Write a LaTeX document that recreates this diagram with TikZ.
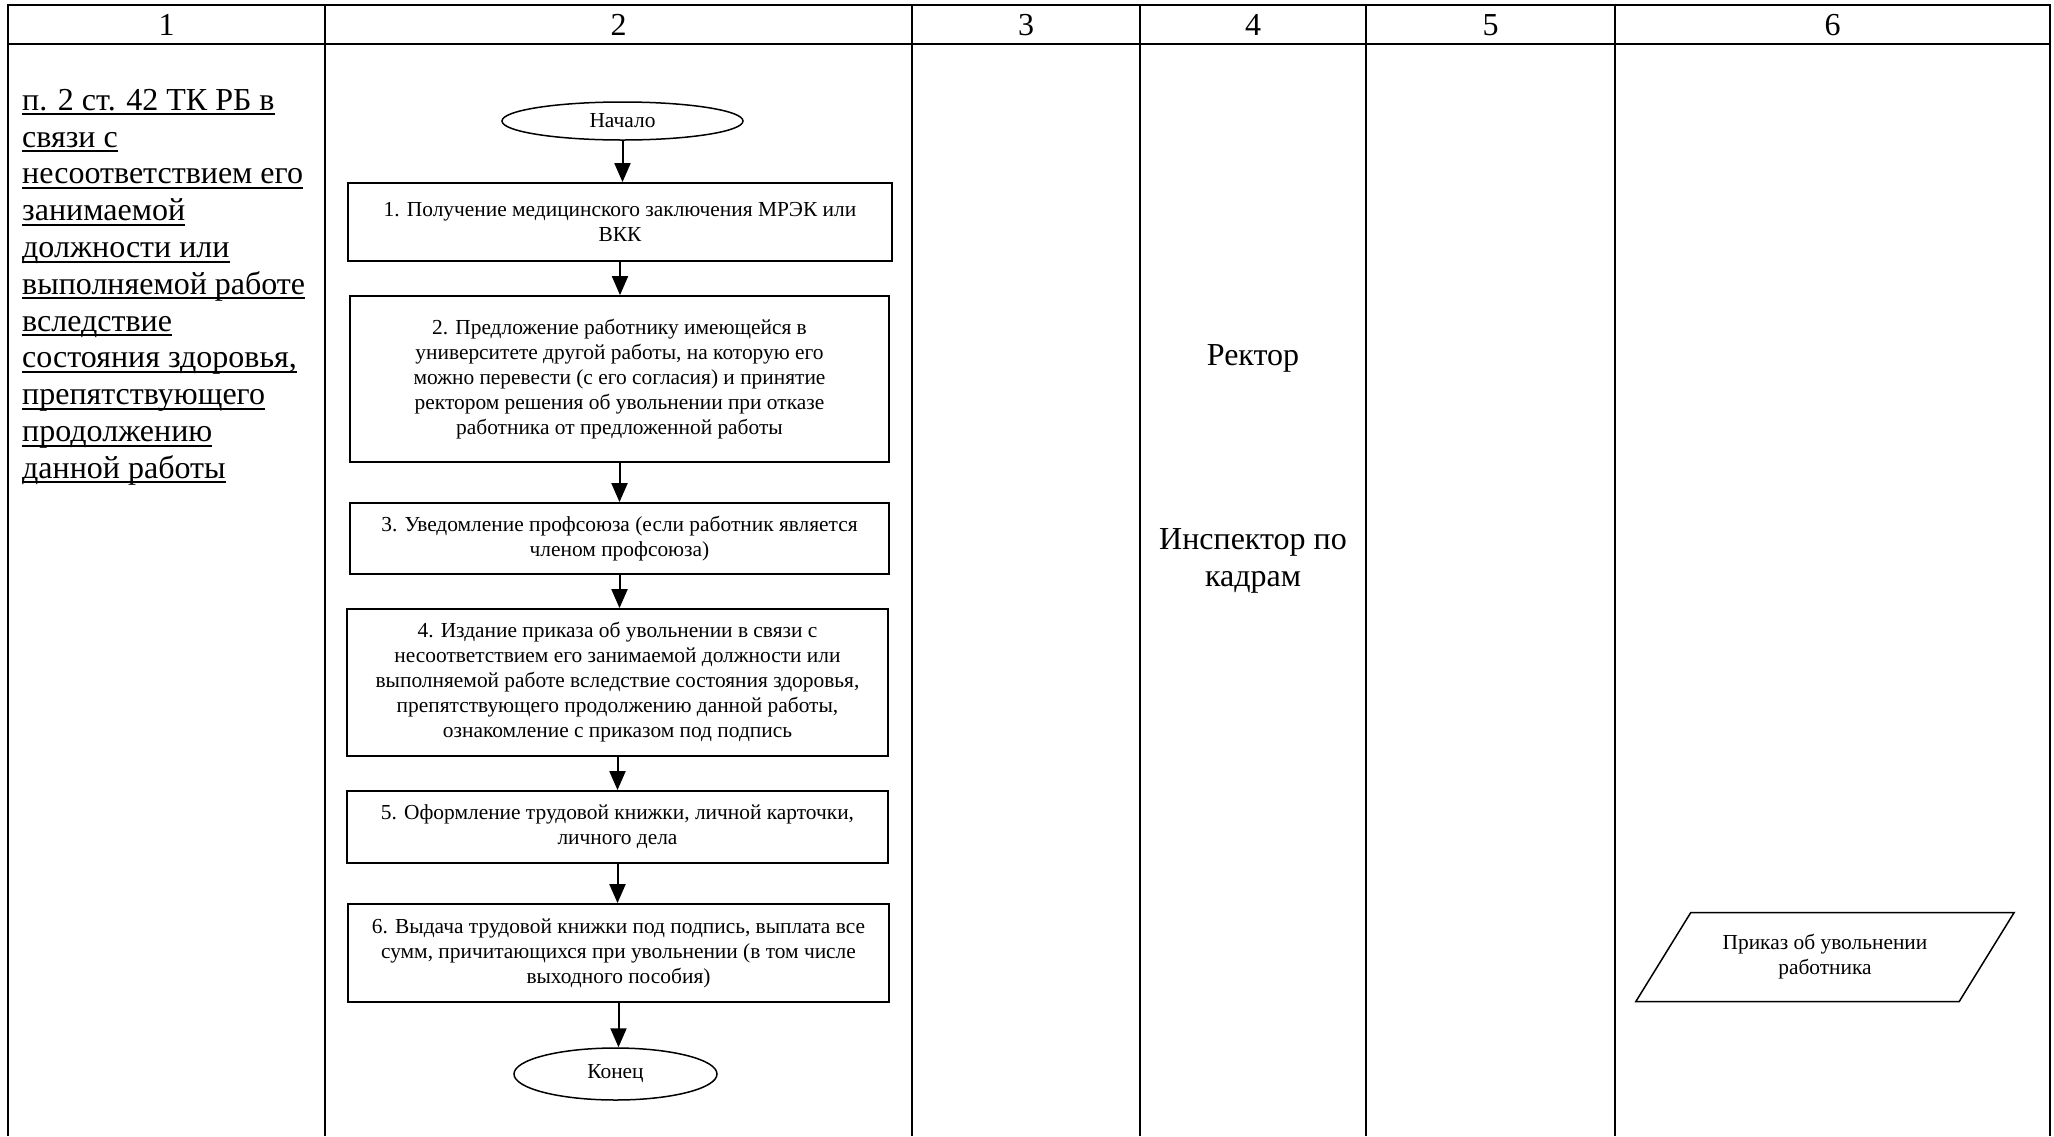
\documentclass[tikz,border=0pt]{standalone}
\usepackage{fontspec}
\setmainfont{Liberation Serif}
\usetikzlibrary{arrows.meta,shapes.geometric}

\newcommand{\ulined}[1]{\setbox0\hbox{#1}\rlap{\rule[-5pt]{\wd0}{2pt}}\box0}

\begin{document}
\begin{tikzpicture}[x=1pt, y=-1pt,
      grid/.style={line width=1.8pt},
      big/.style={font=\fontsize{32}{36.8}\selectfont},
      small/.style={font=\fontsize{21.4}{25}\selectfont},
      stepbox/.style={draw, line width=1.8pt, small, align=center, inner sep=0pt},
      term/.style={draw, ellipse, line width=1.5pt, small, inner sep=0pt},
      arr/.style={-{Triangle[length=19pt, width=16pt]}, line width=2pt}
    ]

    \useasboundingbox (0,0) rectangle (2054,1136);

    % ══ TABLE ══════════════════════════════════════════════════════════════
    \draw[grid] (8,1136) -- (8,5) -- (2050,5) -- (2050,1136);
    \draw[grid] (8,44) -- (2050,44);
    \foreach \cx in {325, 912, 1140, 1366, 1615}
      \draw[grid] (\cx,5) -- (\cx,1136);

    % column numbers
    \foreach \n/\cx in {1/166.5, 2/618.5, 3/1026, 4/1253, 5/1490.5, 6/1832.5}
      \node[big] (head\n) at (\cx,25) {\n};

    % ══ COLUMN 1: ground ═══════════════════════════════════════════════════
    \node[big, align=left, anchor=north west, inner sep=0pt] (ground) at (22,89)
      {\ulined{п. 2 ст. 42 ТК РБ в}\\
       \ulined{связи с}\\
       \ulined{несоответствием его}\\
       \ulined{занимаемой}\\
       \ulined{должности или}\\
       \ulined{выполняемой работе}\\
       \ulined{вследствие}\\
       \ulined{состояния здоровья,}\\
       \ulined{препятствующего}\\
       \ulined{продолжению}\\
       \ulined{данной работы}};

    % ══ COLUMN 2: flowchart ════════════════════════════════════════════════
    \node[term, minimum width=241pt, minimum height=38pt] (start) at (622.5,121)
      {Начало};

    \node[stepbox, minimum width=544pt, minimum height=78pt] (s1) at (620,222)
      {1. Получение медицинского заключения МРЭК или\\ВКК};

    \node[stepbox, minimum width=539pt, minimum height=166pt] (s2) at (619.5,379)
      {2. Предложение работнику имеющейся в\\
       университете другой работы, на которую его\\
       можно перевести (с его согласия) и принятие\\
       ректором решения об увольнении при отказе\\
       работника от предложенной работы};

    \node[stepbox, minimum width=539pt, minimum height=71pt] (s3) at (619.5,538.5)
      {3. Уведомление профсоюза (если работник является\\членом профсоюза)};

    \node[stepbox, minimum width=541pt, minimum height=147pt] (s4) at (617.5,682.5)
      {4. Издание приказа об увольнении в связи с\\
       несоответствием его занимаемой должности или\\
       выполняемой работе вследствие состояния здоровья,\\
       препятствующего продолжению данной работы,\\
       ознакомление с приказом под подпись};

    \node[stepbox, minimum width=541pt, minimum height=72pt] (s5) at (617.5,827)
      {5. Оформление трудовой книжки, личной карточки,\\личного дела};

    \node[stepbox, minimum width=541pt, minimum height=98pt] (s6) at (618.5,953)
      {6. Выдача трудовой книжки под подпись, выплата все\\
       сумм, причитающихся при увольнении (в том числе\\
       выходного пособия)};

    \node[term, minimum width=203pt, minimum height=52pt] (stop) at (615.5,1074)
      {Конец};

    % arrows
    \draw[arr] (start.south) -- (start.south |- s1.north);
    \draw[arr] (s1.south) -- (s1.south |- s2.north);
    \draw[arr] (s2.south) -- (s2.south |- s3.north);
    \draw[arr] (s3.south) -- (s3.south |- s4.north);
    \draw[arr] (s4.south) -- (s4.south |- s5.north);
    \draw[arr] (s5.south) -- (s5.south |- s6.north);
    \draw[arr] (s6.south) -- (s6.south |- stop.north);

    % ══ COLUMN 4: executors ════════════════════════════════════════════════
    \node[big] (rector) at (1253,358) {Ректор};
    \node[big, align=center] (inspector) at (1253,561) {Инспектор по\\кадрам};

    % ══ COLUMN 6: document ═════════════════════════════════════════════════
    \node[draw, trapezium, trapezium left angle=50, trapezium right angle=130,
          trapezium stretches=true, minimum width=380pt, minimum height=89pt,
          small, align=center, line width=1.5pt] (order) at (1825,957)
      {Приказ об увольнении\\работника};

  \end{tikzpicture}
\end{document}
